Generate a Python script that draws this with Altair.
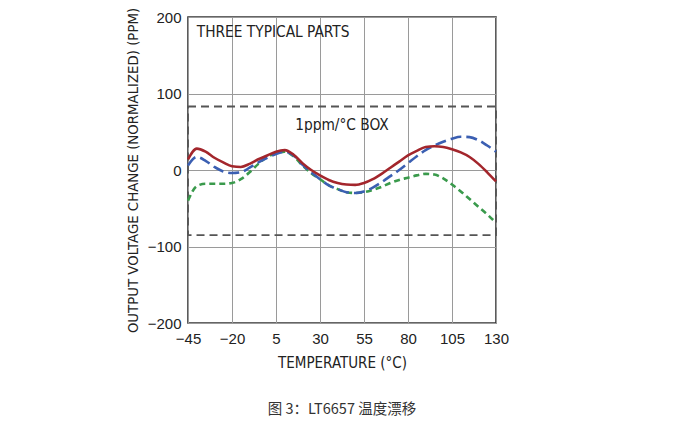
import altair as alt
import pandas as pd

temps = [-45, -40, -35, -30, -25, -20, -15, -10, -5, 0, 5, 10, 15, 20, 25, 30, 35, 40,
         45, 50, 55, 60, 65, 70, 75, 80, 85, 90, 95, 100, 105, 110, 115, 120, 125, 130]
red = [14, 28, 24, 16, 10, 5, 4, 8, 14, 19, 24, 26, 20, 9, 0, -7, -13, -17,
       -19, -19.5, -17, -12, -5, 3, 11, 19, 25, 30, 31, 30, 27, 23, 17, 8, -3, -15]
blue = [6, 17, 12, 4, -2, -4, -3, 3, 10, 16, 21, 24, 19, 7, -3, -12, -20, -25,
        -29, -30, -28, -23, -16, -8, 0, 9, 18, 26, 32, 37, 41, 43.5, 43, 39, 32, 24]
green = [-40, -21, -18, -18, -18, -17, -12, -3, 8, 17, 22, 24, 18, 6, -4, -12, -20, -25,
         -29, -30, -29, -26, -22, -17, -13, -10, -7, -5, -6, -11, -19, -28, -38, -48, -58, -69]

x_ticks = [-45, -20, 5, 30, 55, 80, 105, 130]
y_ticks = [-200, -100, 0, 100, 200]
box = {"x1": -45, "x2": 130, "y1": -85, "y2": 83}

FONT = "DejaVu Sans Condensed, Liberation Sans Narrow, Liberation Sans, Arial, sans-serif"
LFONT = "Liberation Sans, Arial, sans-serif"

df = pd.DataFrame({"t": temps, "red": red, "blue": blue, "green": green})

xs = alt.Scale(domain=[-45, 130], nice=False, zero=False)
ys = alt.Scale(domain=[-200, 200], nice=False, zero=False)

xax = alt.Axis(values=x_ticks, title="TEMPERATURE (°C)", grid=True, gridColor="#9a9a9a",
               gridWidth=1, ticks=False, domain=False, labelFontSize=15, labelPadding=8,
               labelFont=LFONT, titleFont=FONT, titleFontSize=15, titleFontWeight="normal",
               titlePadding=9, labelColor="#222", titleColor="#222", labelFlush=False)
yax = alt.Axis(values=y_ticks, title="OUTPUT VOLTAGE CHANGE (NORMALIZED) (PPM)", grid=True,
               gridColor="#9a9a9a", gridWidth=1, ticks=False, domain=False, labelFontSize=15,
               labelPadding=7, labelFont=LFONT, titleFont=FONT,
               titleFontSize=14.8, titleFontWeight="normal", titlePadding=7,
               labelColor="#222", titleColor="#222")

base = alt.Chart(df)

grid_layer = base.mark_point(opacity=0).encode(
    x=alt.X("t:Q", scale=xs, axis=xax),
    y=alt.Y("red:Q", scale=ys, axis=yax),
)

box_layer = alt.Chart(pd.DataFrame([box])).mark_rect(
    fill=None, stroke="#555555", strokeWidth=1.8, strokeDash=[8, 5]
).encode(x=alt.X("x1:Q", scale=xs), x2="x2:Q", y=alt.Y("y1:Q", scale=ys), y2="y2:Q")

def line(col, color, dash):
    kw = dict(color=color, strokeWidth=2.6, interpolate="monotone")
    if dash:
        kw["strokeDash"] = dash
    return base.mark_line(**kw).encode(
        x=alt.X("t:Q", scale=xs), y=alt.Y(f"{col}:Q", scale=ys))

green_l = line("green", "#3a9a4c", [6, 4])
blue_l = line("blue", "#3b5fb2", [11, 5])
red_l = line("red", "#a3262c", None)

ann = pd.DataFrame({"x": [-40, 42.5], "y": [180, 59],
                    "label": ["THREE TYPICAL PARTS", "1ppm/°C BOX"]})
ann1 = alt.Chart(ann.iloc[[0]]).mark_text(align="left", baseline="middle", font=FONT,
                                          fontSize=15.3, color="#222").encode(
    x=alt.X("x:Q", scale=xs), y=alt.Y("y:Q", scale=ys), text="label:N")
ann2 = alt.Chart(ann.iloc[[1]]).mark_text(align="center", baseline="middle", font=FONT,
                                          fontSize=15.3, color="#222").encode(
    x=alt.X("x:Q", scale=xs), y=alt.Y("y:Q", scale=ys), text="label:N")

caption = alt.Chart(pd.DataFrame({"c": ["图 3：LT6657 温度漂移"]})).mark_text(
    align="center", baseline="middle", font="Noto Sans CJK SC", fontSize=14.5, color="#333"
).encode(x=alt.value(154), y=alt.value(393), text="c:N")

chart = alt.layer(grid_layer, box_layer, green_l, blue_l, red_l, ann1, ann2, caption).properties(
    width=308, height=306,
    autosize=alt.AutoSizeParams(type="none"),
    padding={"left": 180, "top": 9, "right": 30, "bottom": 95},
).configure_view(stroke="#333333", strokeWidth=1.6)

chart.save("out.html", embed_options={"renderer": "svg", "actions": False})
